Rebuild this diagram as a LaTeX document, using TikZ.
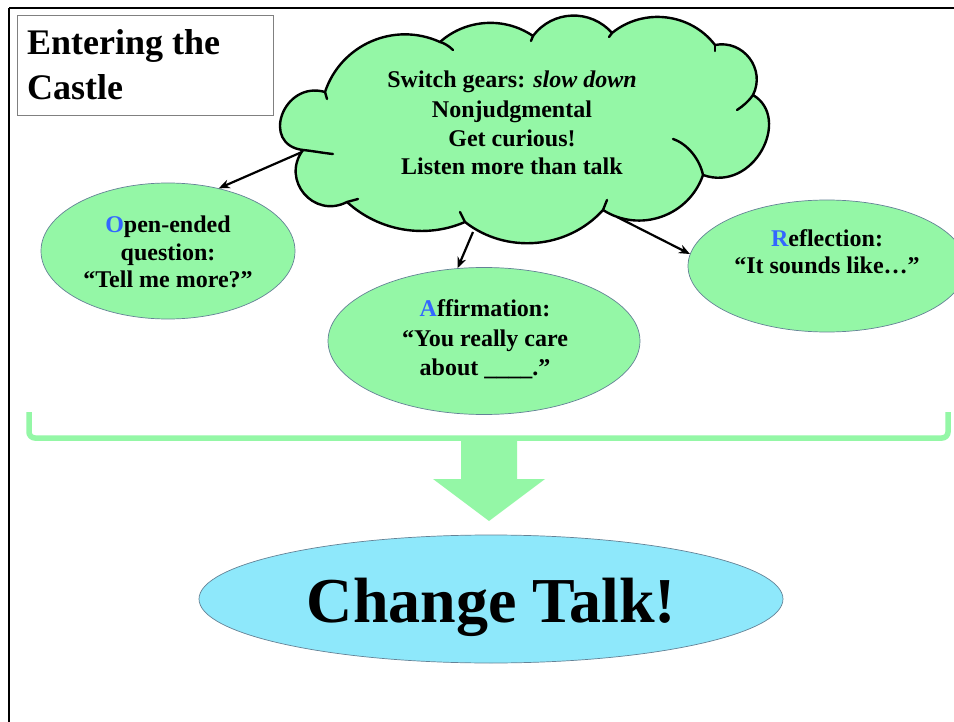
\documentclass[tikz,border=0pt]{standalone}
\usepackage{fontspec}
\setmainfont{Liberation Serif}
\usetikzlibrary{arrows.meta,shapes.geometric}

\definecolor{cgreen}{RGB}{148,247,166}
\definecolor{ccyan}{RGB}{142,232,251}
\definecolor{cblue}{RGB}{51,102,255}
\definecolor{cedge}{RGB}{100,130,150}

\tikzset{
  bubble/.style={ellipse, fill=cgreen, draw=cedge, line width=0.7pt, inner sep=0pt},
  cloudline/.style={draw=black, line width=2.4pt, line cap=round, line join=round},
  conn/.style={line width=2.2pt, -{Stealth[length=11pt,width=9pt]}},
  txt/.style={font=\fontsize{24}{28}\selectfont\bfseries, anchor=base, inner sep=0pt},
  frameline/.style={line width=2pt, black},
}

\begin{document}
\begin{tikzpicture}[x=1pt,y=-1pt]
\useasboundingbox (0,0) rectangle (954,722);
\fill[white] (0,0) rectangle (954,722);

% frame
\draw[frameline] (9,8) -- (956,8);
\draw[frameline] (9,8) -- (9,724);

% title
\node[draw=gray, line width=0.8pt, minimum width=256pt, minimum height=100pt, inner sep=0pt] (titlebox) at (145,65) {};
\node[anchor=base west, inner sep=0pt, font=\fontsize{36}{44}\selectfont\bfseries] (title1) at (27,55) {Entering the};
\node[anchor=base west, inner sep=0pt, font=\fontsize{36}{44}\selectfont\bfseries] (title2) at (27,100) {Castle};

% cloud cusps
\coordinate (c1) at (325,92);
\coordinate (c2) at (440,42);
\coordinate (c3) at (533,36);
\coordinate (c4) at (612,33);
\coordinate (c5) at (715,45);
\coordinate (c6) at (753,95);
\coordinate (c7) at (703,175);
\coordinate (c8) at (603,210);
\coordinate (c9) at (465,222);
\coordinate (c10) at (347,202);
\coordinate (c11) at (303,150);

\path[fill=cgreen, cloudline] (c1)
  .. controls (340.9,44.4) and (394.3,21.2) .. (c2)
  .. controls (465.7,19.0) and (504.5,16.4) .. (c3)
  .. controls (552.4,10.0) and (590.6,8.6) .. (c4)
  .. controls (643.3,7.5) and (690.5,12.9) .. (c5)
  .. controls (743.4,39.4) and (766.0,69.2) .. (c6)
  .. controls (792,118) and (754,193) .. (c7)
  .. controls (689.0,216.1) and (639.6,233.5) .. (c8)
  .. controls (567.8,249.1) and (506.4,254.5) .. (c9)
  .. controls (425.4,239.2) and (378.8,231.2) .. (c10)
  .. controls (313.7,219.2) and (280.5,180.0) .. (c11)
  .. controls (260,145) and (283,80) .. (c1) -- cycle;

% inner strokes of the cloud
\draw[cloudline] (c1) -- (327,99);
\draw[cloudline] (c2) .. controls (444,43) and (449,46) .. (453,50);
\draw[cloudline] (c3) -- (531,41);
\draw[cloudline] (c4) -- (609,37);
\draw[cloudline] (c5) -- (715,51);
\draw[cloudline] (c6) .. controls (748,102) and (743,106) .. (737,110);
\draw[cloudline] (c7) .. controls (700,160) and (688,144) .. (673,139);
\draw[cloudline] (c8) -- (607,200);
\draw[cloudline] (c9) -- (460,212);
\draw[cloudline] (c10) -- (358,199);
\draw[cloudline] (c11) .. controls (313,151) and (323,153) .. (333,154);

% cloud text
\node[txt] (k1) at (512,88) {Switch gears: \textit{slow down}};
\node[txt] (k2) at (512,118) {Nonjudgmental};
\node[txt] (k3) at (512,147) {Get curious!};
\node[txt] (k4) at (512,175) {Listen more than talk};

% ellipses
\node[bubble, minimum width=254pt, minimum height=136pt] (O) at (168,251) {};
\node[bubble, minimum width=312pt, minimum height=147pt] (A) at (484,341) {};
\node[bubble, minimum width=278pt, minimum height=132pt] (R) at (827,266) {};

\node[txt] (o1) at (168,232.5) {\textcolor{cblue}{O}pen-ended};
\node[txt] (o2) at (168,260.5) {question:};
\node[txt] (o3) at (168,288) {“Tell me more?”};

\node[txt] (a1) at (485,316.5) {\textcolor{cblue}{A}ffirmation:};
\node[txt] (a2) at (485,346) {“You really care};
\node[txt] (a3) at (485,375) {about \_\_\_\_.”};

\node[txt] (r1) at (827,246.5) {\textcolor{cblue}{R}eflection:};
\node[txt] (r2) at (827,273.5) {“It sounds like…”};

% connectors
\coordinate (s1) at (302,152);
\coordinate (s2) at (473,232);
\coordinate (s3) at (617,217);
\draw[conn] (s1) -- (O.51);
\draw[conn] (s2) -- (A.110);
\draw[conn] (s3) -- (R.175);

% bracket and big arrow
\draw[cgreen, line width=5.5pt, rounded corners=6pt] (29,412) -- (29,438) -- (948,438) -- (948,412);
\fill[cgreen] (461,436) -- (461,479) -- (433,479) -- (489,521) -- (545,479) -- (517,479) -- (517,436) -- cycle;

% change talk
\node[ellipse, fill=ccyan, draw=cedge, line width=0.7pt, inner sep=0pt, minimum width=584pt, minimum height=128pt] (CT) at (491,599) {};
\node[anchor=base, inner sep=0pt, font=\fontsize{64}{70}\selectfont\bfseries] (ct) at (491.5,622) {Change Talk!};
\end{tikzpicture}
\end{document}
